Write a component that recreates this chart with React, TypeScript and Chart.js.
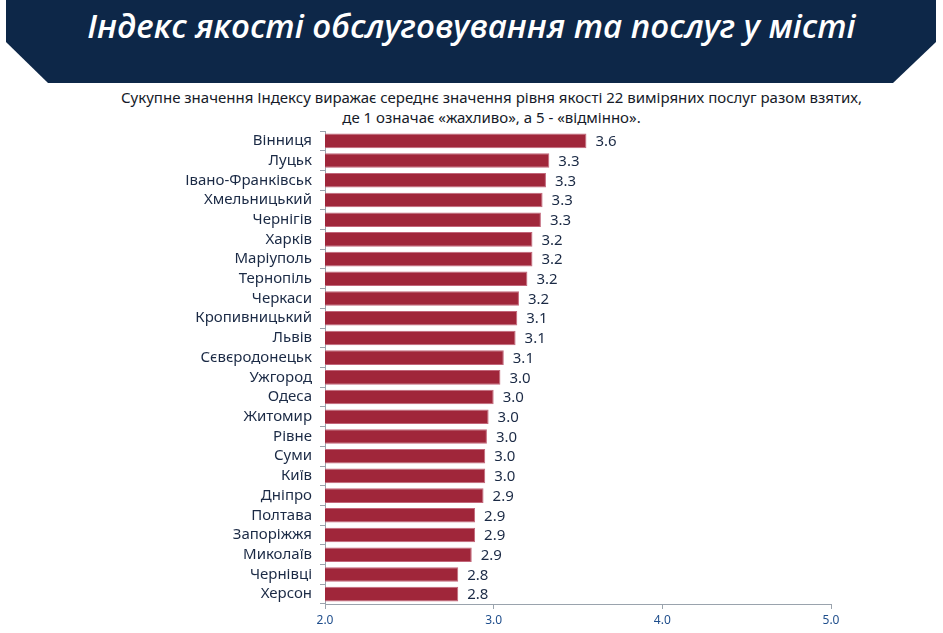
import React, { useEffect, useRef } from "react";
import { Chart, registerables } from "chart.js";

Chart.register(...registerables);

const cities = [
  "Вінниця", "Луцьк", "Івано-Франківськ", "Хмельницький", "Чернігів", "Харків",
  "Маріуполь", "Тернопіль", "Черкаси", "Кропивницький", "Львів", "Сєвєродонецьк",
  "Ужгород", "Одеса", "Житомир", "Рівне", "Суми", "Київ", "Дніпро", "Полтава",
  "Запоріжжя", "Миколаїв", "Чернівці", "Херсон",
];
const values = [
  3.55, 3.33, 3.31, 3.29, 3.28, 3.23, 3.23, 3.2, 3.15, 3.14, 3.13, 3.06,
  3.04, 3.0, 2.97, 2.96, 2.95, 2.95, 2.94, 2.89, 2.89, 2.87, 2.79, 2.79,
];
const valueLabels = [
  "3.6", "3.3", "3.3", "3.3", "3.3", "3.2", "3.2", "3.2", "3.2", "3.1", "3.1", "3.1",
  "3.0", "3.0", "3.0", "3.0", "3.0", "3.0", "2.9", "2.9", "2.9", "2.9", "2.8", "2.8",
];
const xTicks = [2, 3, 4, 5];
const titleText = "Індекс якості обслуговування та послуг у місті";
const subtitleLines = [
  "Сукупне значення Індексу виражає середнє значення рівня якості 22 виміряних послуг разом взятих,",
  "де 1 означає «жахливо», а 5 - «відмінно».",
];

const FONT = "'Noto Sans', 'DejaVu Sans', sans-serif";

const valueLabelPlugin = {
  id: "valueLabels",
  afterDatasetsDraw(chart: any) {
    const { ctx } = chart;
    const meta = chart.getDatasetMeta(0);
    ctx.save();
    ctx.font = `15px ${FONT}`;
    ctx.fillStyle = "#1b2a45";
    ctx.textAlign = "left";
    ctx.textBaseline = "middle";
    meta.data.forEach((bar: any, i: number) => {
      ctx.fillText(valueLabels[i], bar.x + 9, bar.y + 1);
    });
    ctx.restore();
  },
};

export default function App() {
  const canvasRef = useRef<HTMLCanvasElement | null>(null);

  useEffect(() => {
    if (!canvasRef.current) return;
    const chart = new Chart(canvasRef.current, {
      type: "bar",
      data: {
        labels: cities,
        datasets: [
          {
            data: values,
            backgroundColor: "#a0263a",
            borderColor: "#c2667a",
            borderWidth: 1,
            barPercentage: 0.74,
            categoryPercentage: 1,
          },
        ],
      },
      options: {
        indexAxis: "y",
        animation: false,
        responsive: false,
        maintainAspectRatio: false,
        layout: { padding: { top: 131, right: 112, bottom: 0, left: 0 } },
        plugins: {
          legend: { display: false },
          tooltip: { enabled: false },
        },
        scales: {
          x: {
            min: 2,
            max: 5,
            afterBuildTicks(scale: any) {
              scale.ticks = xTicks.map((v) => ({ value: v }));
            },
            afterFit(scale: any) {
              scale.height = 29;
            },
            grid: {
              drawOnChartArea: false,
              drawTicks: true,
              tickLength: 5,
              color: "#9aa3ad",
            },
            border: { color: "#9aa3ad", width: 1 },
            ticks: {
              color: "#1f4e8c",
              font: { family: FONT, size: 12 },
              padding: 4,
              callback: (v: any) => Number(v).toFixed(1),
            },
          },
          y: {
            afterFit(scale: any) {
              scale.width = 325;
            },
            grid: {
              drawOnChartArea: false,
              drawTicks: true,
              tickLength: 5,
              offset: true,
              color: "#9aa3ad",
            },
            border: { color: "#9aa3ad", width: 1 },
            ticks: {
              color: "#1b2a45",
              font: { family: FONT, size: 15 },
              padding: 8,
              autoSkip: false,
            },
          },
        },
      },
      plugins: [valueLabelPlugin],
    });
    return () => chart.destroy();
  }, []);

  return (
    <div style={{ position: "absolute", left: 0, top: 0, width: 943, height: 633, background: "#fff", overflow: "hidden" }}>
      <div
        style={{
          position: "absolute",
          left: 0,
          top: 0,
          width: 943,
          height: 83,
          background: "#0d2748",
          clipPath: "polygon(6px 0, 936px 0, 936px 42px, 893px 83px, 48px 83px, 6px 42px)",
        }}
      />
      <div
        style={{
          position: "absolute",
          left: 0,
          top: 2,
          width: 943,
          textAlign: "center",
          color: "#fff",
          fontFamily: "'Open Sans', sans-serif",
          fontStyle: "italic",
          fontWeight: 600,
          fontSize: 33,
          lineHeight: "48px",
        }}
      >
        {titleText}
      </div>
      <div
        style={{
          position: "absolute",
          left: 0,
          top: 87,
          width: 983,
          textAlign: "center",
          color: "#151a28",
          fontFamily: FONT,
          fontSize: 15,
          lineHeight: "20px",
        }}
      >
        {subtitleLines.map((l, i) => (
          <div key={i}>{l}</div>
        ))}
      </div>
      <canvas
        ref={canvasRef}
        width={943}
        height={633}
        style={{ position: "absolute", left: 0, top: 0, width: 943, height: 633 }}
      />
    </div>
  );
}
